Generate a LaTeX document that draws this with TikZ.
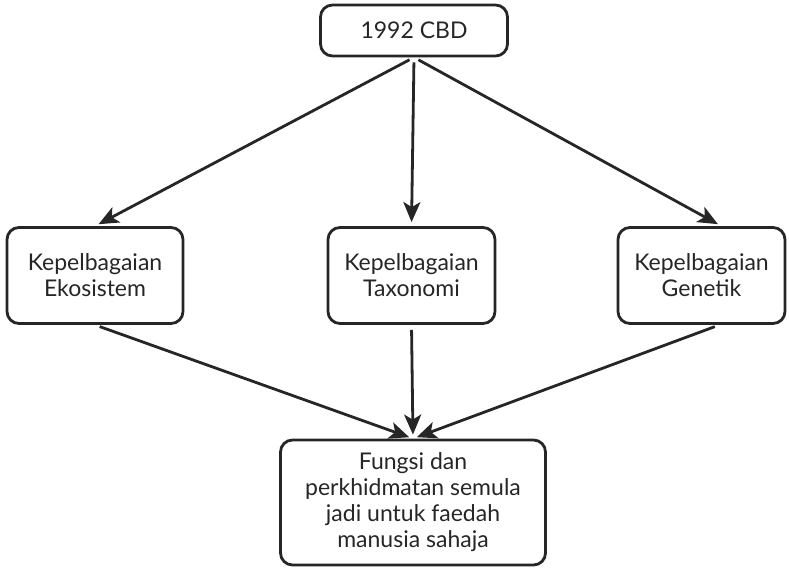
\documentclass[tikz,border=0pt]{standalone}
\usepackage{fontspec}
\setmainfont{Lato}
\usetikzlibrary{arrows.meta}
\begin{document}
\begin{tikzpicture}[x=1pt, y=-1pt, line width=2.8pt, color=black!85,
  kotak/.style={draw, rounded corners=12pt, align=center, inner sep=0pt,
    font=\fontsize{23}{26}\selectfont},
  panah/.style={-{Stealth[length=20pt,width=17pt,inset=5pt]},
    shorten <=5pt, shorten >=4pt}]
\useasboundingbox (0,0) rectangle (789,572);
\node[kotak, minimum width=187pt, minimum height=51pt] (cbd) at (414,30.5) {1992 CBD};
\node[kotak, minimum width=176pt, minimum height=96pt] (eko) at (95,275.5) {Kepelbagaian\\Ekosistem};
\node[kotak, minimum width=167pt, minimum height=96pt] (takso) at (411.5,275.5) {Kepelbagaian\\Taxonomi};
\node[kotak, minimum width=167pt, minimum height=96pt] (gen) at (701.5,275.5) {Kepelbagaian\\Genetik};
\node[kotak, minimum width=265pt, minimum height=125pt] (fungsi) at (413,502.5)
  {Fungsi dan\\perkhidmatan semula\\jadi untuk faedah\\manusia sahaja};
  % dari CBD ke tiga kepelbagaian
  \draw[panah] (cbd.south) -- (eko.north);
  \draw[panah] (cbd.south) -- (takso.north);
  \draw[panah] (cbd.south) -- (gen.68);
  % ke kotak bawah
  \draw[panah] (eko.south) -- (fungsi.north);
  \draw[panah] (takso.south) -- (fungsi.north);
  \draw[panah] (gen.-70) -- (fungsi.north);
\end{tikzpicture}
\end{document}
